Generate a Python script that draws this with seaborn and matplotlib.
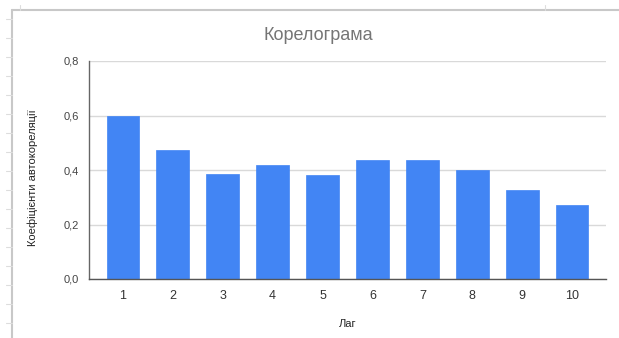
import matplotlib
matplotlib.use("Agg")
import matplotlib.pyplot as plt
from matplotlib.lines import Line2D
from matplotlib.ticker import FuncFormatter
import seaborn as sns
import pandas as pd

# Autocorrelation coefficients by lag
lags = ["1", "2", "3", "4", "5", "6", "7", "8", "9", "10"]
acf_values = [0.60, 0.475, 0.385, 0.42, 0.38, 0.435, 0.435, 0.40, 0.327, 0.27]
y_ticks = [0.0, 0.2, 0.4, 0.6, 0.8]

title = "Корелограма"
x_label = "Лаг"
y_label = "Коефіцієнти автокореляції"

sns.set_theme(style="white")
plt.rcParams["font.family"] = ["Liberation Sans", "DejaVu Sans"]

df = pd.DataFrame({"lag": lags, "acf": acf_values})

fig = plt.figure(figsize=(6.19, 3.38), dpi=100)
ax = fig.add_axes([89 / 619, 1 - 279 / 338, (606 - 89) / 619, (279 - 61) / 338])

sns.barplot(data=df, x="lag", y="acf", color="#4285F4", saturation=1,
            width=0.655, ax=ax, zorder=3, edgecolor="#4285F4", linewidth=0.5)

ax.set_ylim(0, 0.8)
ax.set_xlim(-0.68, 9.68)
ax.set_yticks(y_ticks)
ax.yaxis.set_major_formatter(FuncFormatter(lambda v, _: f"{v:.1f}".replace(".", ",")))
ax.grid(axis="y", color="#d9d9d9", linewidth=1, zorder=0)
ax.grid(axis="x", visible=False)

for side in ("top", "right"):
    ax.spines[side].set_visible(False)
ax.spines["left"].set_color("#666666")
ax.spines["left"].set_linewidth(1)
ax.spines["bottom"].set_color("#555555")
ax.spines["bottom"].set_linewidth(1)
ax.spines["left"].set_zorder(4)
ax.spines["bottom"].set_zorder(4)

ax.tick_params(axis="both", length=0, colors="#333333")
ax.tick_params(axis="y", labelsize=8, pad=7, labelcolor="#444444")
ax.tick_params(axis="x", labelsize=9, pad=8, labelcolor="#333333")

ax.set_xlabel(x_label, fontsize=8, color="#222222")
ax.xaxis.set_label_coords((348 - 89) / (606 - 89), -(319 - 279) / (279 - 61))
ax.set_ylabel(y_label, fontsize=8, color="#222222")
ax.yaxis.set_label_coords(-(89 - 38) / (606 - 89), 0.463)

fig.text(318 / 619, 1 - 36 / 338, title, ha="center", va="center",
         fontsize=13, color="#757575")

# Sheet frame around the chart
frame_color = "#c8c8c8"
fig.add_artist(Line2D([12 / 619, 1], [1 - 10 / 338] * 2, color=frame_color, lw=1.5,
                      transform=fig.transFigure))
fig.add_artist(Line2D([12 / 619] * 2, [0, 1 - 10 / 338], color=frame_color, lw=1.5,
                      transform=fig.transFigure))
for yy in range(19, 338, 19):
    fig.add_artist(Line2D([6 / 619, 12 / 619], [1 - yy / 338] * 2, color="#dddddd",
                          lw=0.8, transform=fig.transFigure))
for xx in (20, 545):
    fig.add_artist(Line2D([xx / 619] * 2, [1 - 5 / 338, 1 - 10 / 338], color="#dddddd",
                          lw=0.8, transform=fig.transFigure))

fig.savefig("out.png", dpi=100)
